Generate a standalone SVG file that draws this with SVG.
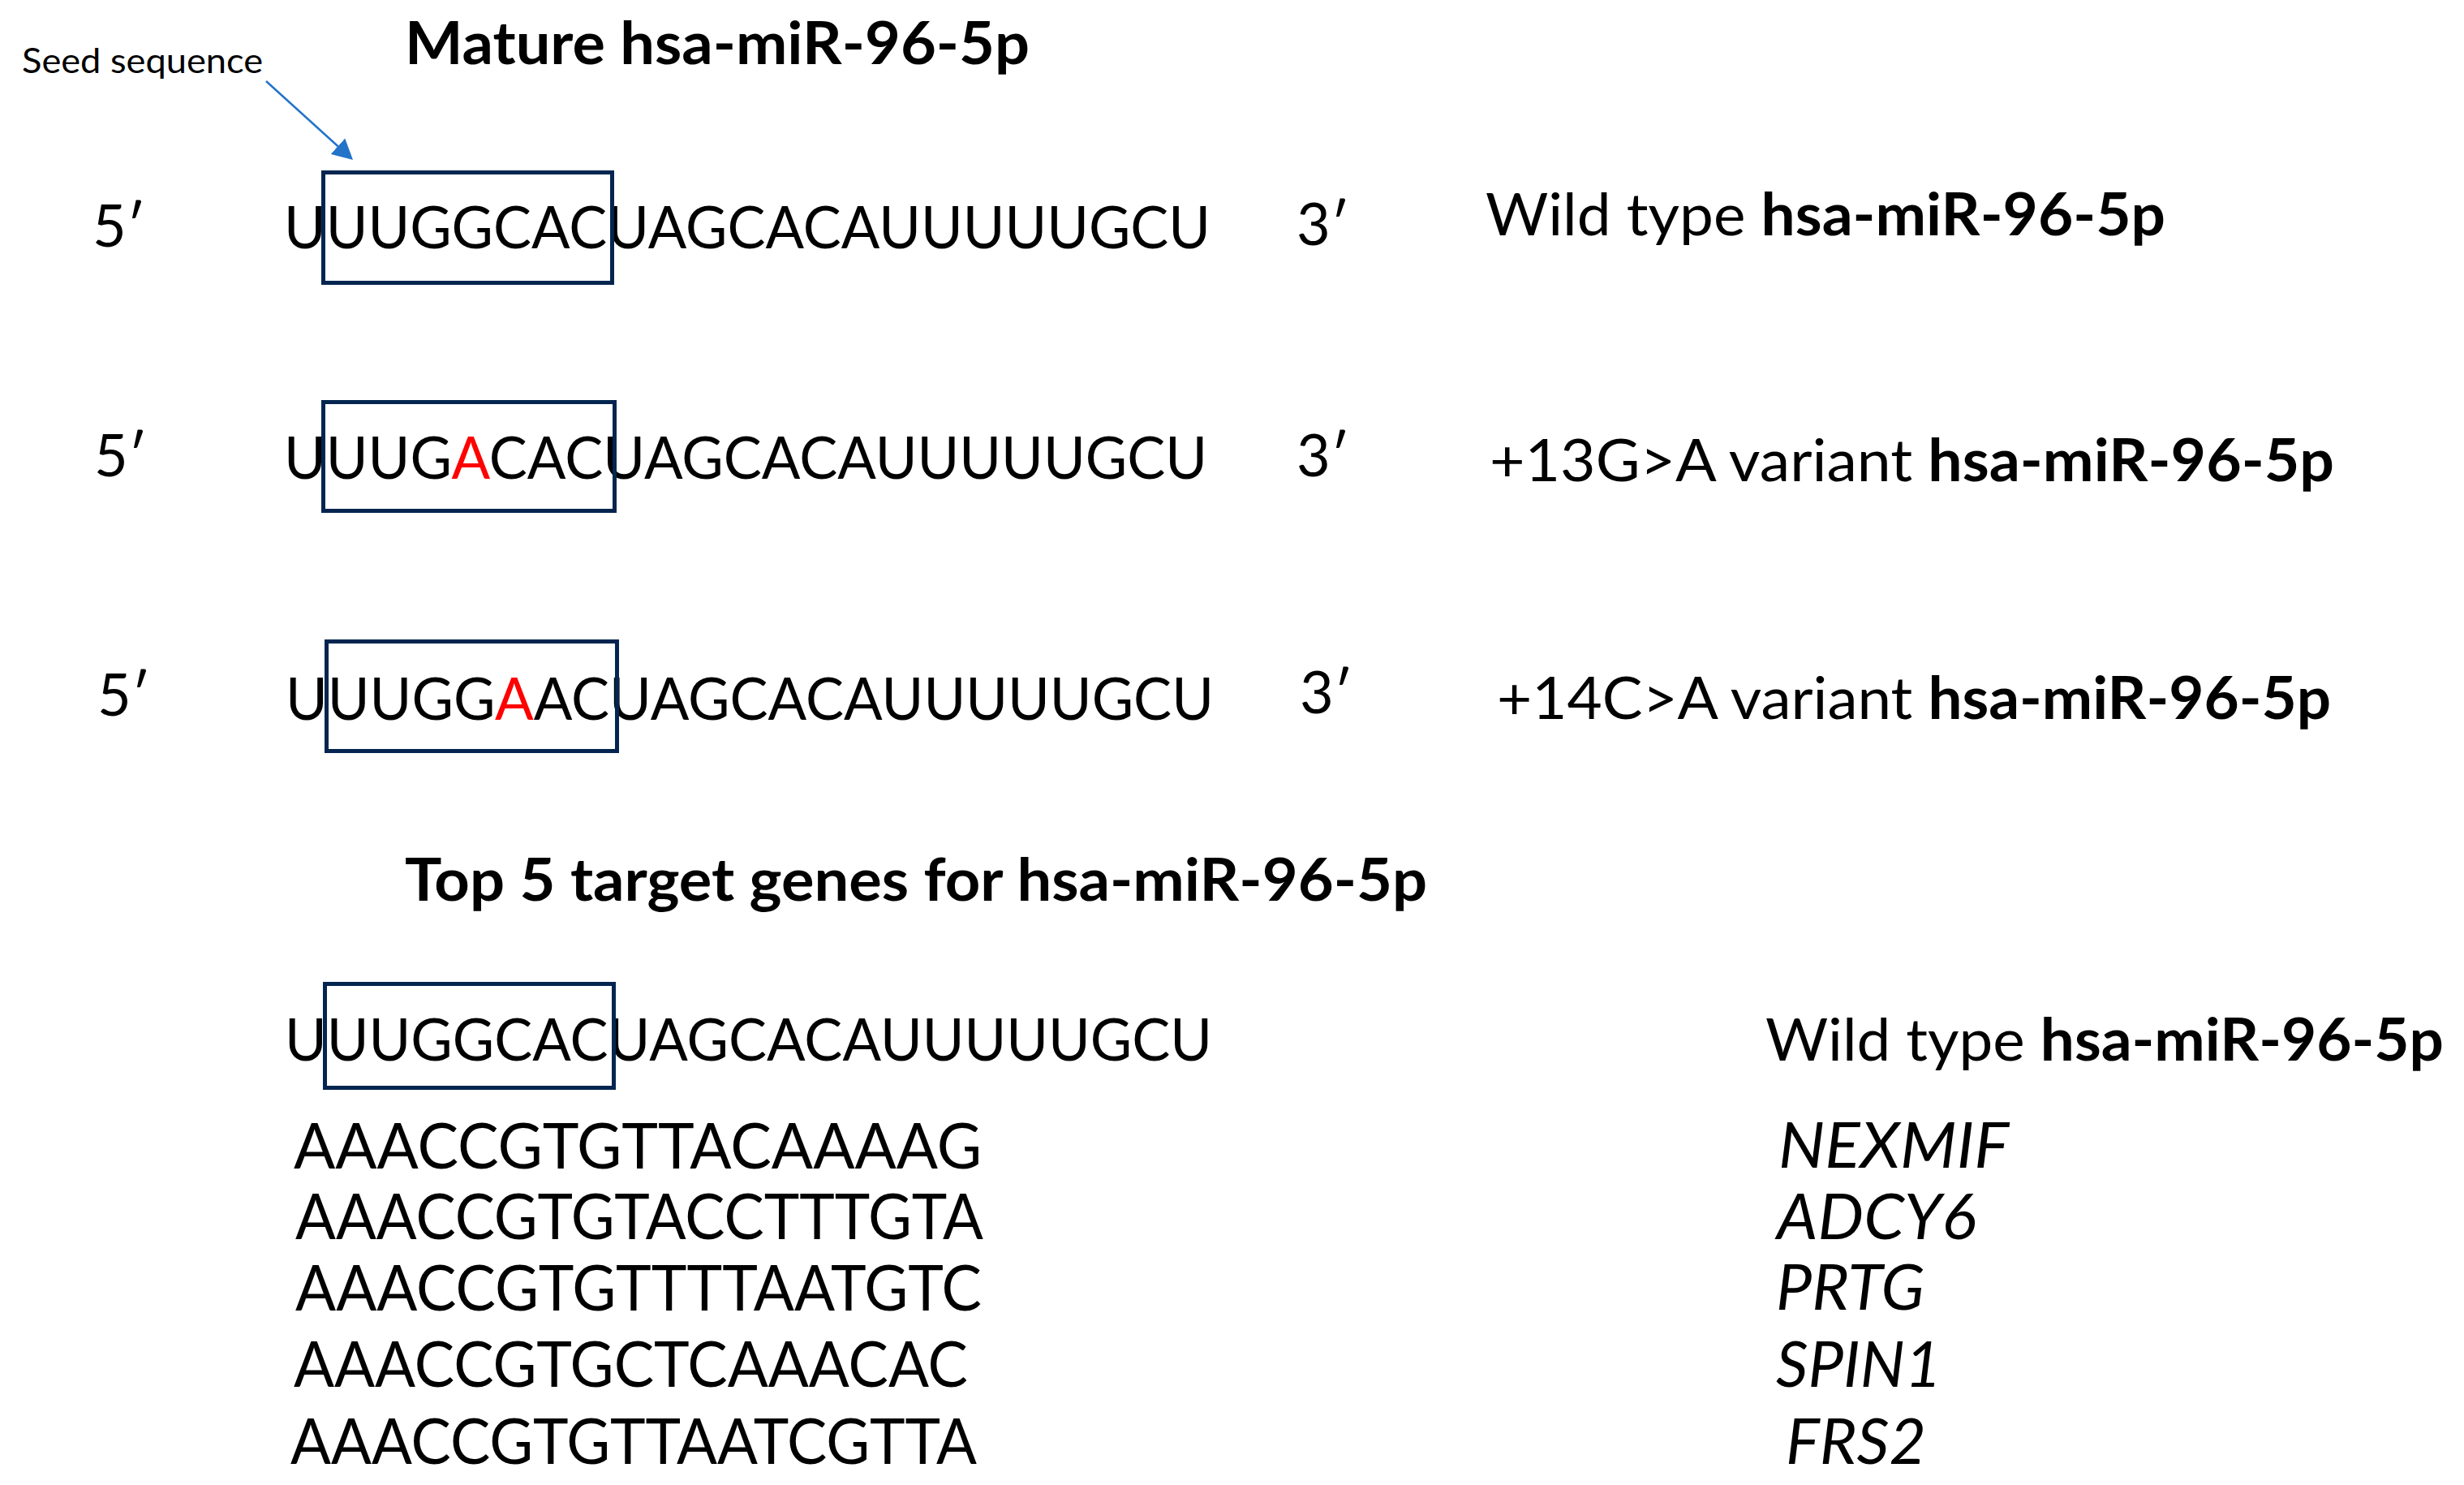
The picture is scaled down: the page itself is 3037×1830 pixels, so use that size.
<svg xmlns="http://www.w3.org/2000/svg" width="3037" height="1830" viewBox="0 0 3037 1830">
<style>
text{font-family:Lato,"Open Sans","Liberation Sans",sans-serif;fill:#000}
.t{font-size:72px}
.b{font-weight:700}
.seq{font-size:72px}
.tg{font-size:78px}
.gene{font-size:77px;font-style:italic}
.red{fill:#ff0000}
.box{fill:none;stroke:#03254f;stroke-width:5}
.arrow{stroke:#2373c9;stroke-width:2.5;fill:none}
</style>
<defs>
<marker id="ah" markerUnits="userSpaceOnUse" markerWidth="26" markerHeight="26" refX="0" refY="13" orient="auto">
<path d="M0,0 L25,13 L0,26 z" fill="#2373c9"/>
</marker>
</defs>
<rect width="3037" height="1830" fill="#fff"/>

<g id="title">
<text class="t b" x="499" y="79" textLength="770" lengthAdjust="spacingAndGlyphs">Mature hsa-miR-96-5p</text>
</g>

<g id="seed-label">
<text x="27" y="90" style="font-size:42px" textLength="297" lengthAdjust="spacingAndGlyphs">Seed sequence</text>
</g>

<g id="row-wild-type">
<text class="t" x="114" y="304">5′</text>
<text class="seq" x="350" y="306" textLength="1142" lengthAdjust="spacingAndGlyphs">UUUGGCACUAGCACAUUUUUGCU</text>
<rect class="box" x="398.5" y="212.5" width="356" height="136"/>
<text class="t" x="1598" y="302">3′</text>
<text class="t" x="1831" y="290" textLength="838" lengthAdjust="spacingAndGlyphs">Wild type <tspan class="b">hsa-miR-96-5p</tspan></text>
</g>

<g id="row-13GA">
<text class="t" x="116" y="587">5′</text>
<text class="seq" x="350" y="590" textLength="1138" lengthAdjust="spacingAndGlyphs">UUUG<tspan class="red">A</tspan>CACUAGCACAUUUUUGCU</text>
<rect class="box" x="398.5" y="495.5" width="359" height="134"/>
<text class="t" x="1598" y="587">3′</text>
<text class="t" x="1836" y="593" textLength="1041" lengthAdjust="spacingAndGlyphs">+13G&gt;A variant <tspan class="b">hsa-miR-96-5p</tspan></text>
</g>

<g id="row-14CA">
<text class="t" x="120" y="882">5′</text>
<text class="seq" x="352" y="887" textLength="1144" lengthAdjust="spacingAndGlyphs">UUUGG<tspan class="red">A</tspan>ACUAGCACAUUUUUGCU</text>
<rect class="box" x="402.5" y="790.5" width="358" height="135"/>
<text class="t" x="1602" y="879">3′</text>
<text class="t" x="1845" y="886" textLength="1028" lengthAdjust="spacingAndGlyphs">+14C&gt;A variant <tspan class="b">hsa-miR-96-5p</tspan></text>
</g>

<g id="targets-title">
<text class="t b" x="499" y="1110" textLength="1260" lengthAdjust="spacingAndGlyphs">Top 5 target genes for hsa-miR-96-5p</text>
</g>

<g id="row-target-mirna">
<text class="seq" x="351" y="1307" textLength="1143" lengthAdjust="spacingAndGlyphs">UUUGGCACUAGCACAUUUUUGCU</text>
<rect class="box" x="400.5" y="1212.5" width="356" height="128"/>
<text class="t" x="2176" y="1307" textLength="836" lengthAdjust="spacingAndGlyphs">Wild type <tspan class="b">hsa-miR-96-5p</tspan></text>
</g>

<g id="target-NEXMIF">
<text class="tg" x="362" y="1440" textLength="848" lengthAdjust="spacingAndGlyphs">AAACCGTGTTACAAAAG</text>
<text class="gene" x="2192" y="1439" textLength="284" lengthAdjust="spacingAndGlyphs">NEXMIF</text>
</g>
<g id="target-ADCY6">
<text class="tg" x="364" y="1527" textLength="848" lengthAdjust="spacingAndGlyphs">AAACCGTGTACCTTTGTA</text>
<text class="gene" x="2190" y="1527" textLength="246" lengthAdjust="spacingAndGlyphs">ADCY6</text>
</g>
<g id="target-PRTG">
<text class="tg" x="364" y="1615" textLength="846" lengthAdjust="spacingAndGlyphs">AAACCGTGTTTTAATGTC</text>
<text class="gene" x="2189" y="1614" textLength="183" lengthAdjust="spacingAndGlyphs">PRTG</text>
</g>
<g id="target-SPIN1">
<text class="tg" x="362" y="1709" textLength="831" lengthAdjust="spacingAndGlyphs">AAACCGTGCTCAAACAC</text>
<text class="gene" x="2189" y="1709" textLength="204" lengthAdjust="spacingAndGlyphs">SPIN1</text>
</g>
<g id="target-FRS2">
<text class="tg" x="358" y="1804" textLength="846" lengthAdjust="spacingAndGlyphs">AAACCGTGTTAATCGTTA</text>
<text class="gene" x="2201" y="1804" textLength="173" lengthAdjust="spacingAndGlyphs">FRS2</text>
</g>

<g id="connectors">
<line class="arrow" x1="328" y1="100" x2="416.5" y2="180.2" marker-end="url(#ah)"/>
</g>
</svg>
